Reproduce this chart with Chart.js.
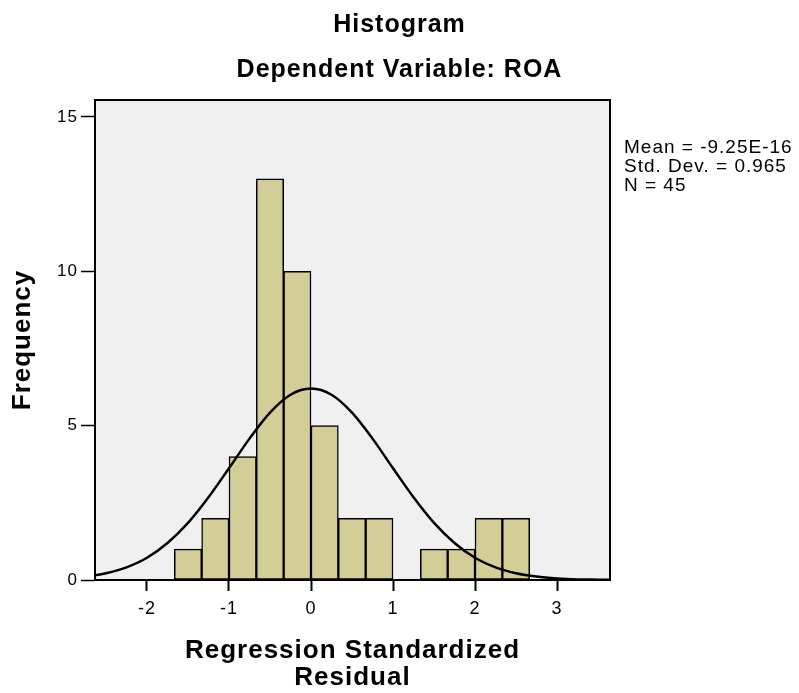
<!DOCTYPE html>
<html>
<head>
<meta charset="utf-8">
<script src="https://cdn.jsdelivr.net/npm/chart.js@4.4.1/dist/chart.umd.min.js"></script>
<style>
  body { margin: 0; background: #fff; }
</style>
</head>
<body>
<canvas id="histograma" width="799" height="693"></canvas>
<script>
const binCenters = [-1.5, -1.1667, -0.8333, -0.5, -0.1667, 0.1667, 0.5, 0.8333, 1.1667, 1.5, 1.8333, 2.1667, 2.5];
const frequencies = [1, 2, 4, 13, 10, 5, 2, 2, 0, 1, 1, 2, 2];

// curva normal
const curveX = [-2.75, -2.5, -2.25, -2, -1.75, -1.5, -1.25, -1, -0.75, -0.5, -0.25, 0, 0.25, 0.5, 0.75, 1, 1.25, 1.5, 1.75, 2, 2.25, 2.5, 2.75, 3, 3.25, 3.5, 3.75];
const curveY = [0.11, 0.22, 0.41, 0.72, 1.20, 1.85, 2.68, 3.62, 4.58, 5.42, 6.00, 6.20, 6.00, 5.42, 4.58, 3.62, 2.68, 1.85, 1.20, 0.72, 0.41, 0.22, 0.11, 0.05, 0.02, 0.01, 0.00];

const statLines = ["Mean = -9.25E-16", "Std. Dev. = 0.965", "N = 45"];

Chart.defaults.font.family = '"Liberation Sans", Arial, sans-serif';
Chart.defaults.color = '#000';

//Plugin para fondo, marco y estadisticos
const marco = {
  id: 'marco',
  beforeDraw(chart) {
    const {ctx, chartArea: a} = chart;
    ctx.letterSpacing = '1px'; // texto un poco mas espaciado, como en SPSS
    ctx.save();
    ctx.fillStyle = '#f0f0f0';
    ctx.fillRect(a.left, a.top, a.right - a.left, a.bottom - a.top);
    ctx.restore();
  },
  afterDraw(chart) {
    const {ctx, chartArea: a} = chart;
    ctx.save();
    ctx.strokeStyle = '#000';
    ctx.lineWidth = 2;
    ctx.strokeRect(a.left, a.top, a.right - a.left, a.bottom - a.top);
    ctx.fillStyle = '#000';
    ctx.font = '19px "Liberation Sans", Arial, sans-serif';
    ctx.textBaseline = 'middle';
    ctx.textAlign = 'left';
    statLines.forEach((t, i) => ctx.fillText(t, a.right + 14, 148 + i * 19));
    ctx.restore();
  }
};

const soloEnteros = (step) => (scale) => {
  scale.ticks = scale.ticks.filter(t => Math.abs(t.value / step - Math.round(t.value / step)) < 1e-6);
};

const grafHistograma = new Chart(
  document.querySelector("#histograma"),
  {
    type: "bar",
    data: {
      datasets: [
        {
          type: "line",
          data: curveX.map((x, i) => ({x: x, y: curveY[i]})),
          borderColor: '#000',
          borderWidth: 2.5,
          pointRadius: 0,
          cubicInterpolationMode: 'monotone',
          order: 0
        },
        {
          data: binCenters.map((x, i) => ({x: x, y: frequencies[i]})),
          backgroundColor: '#d3ce98',
          borderColor: '#000',
          borderWidth: 1.5,
          borderSkipped: false,
          barPercentage: 1,
          categoryPercentage: 1,
          order: 1
        }
      ]
    },
    options: {
      responsive: false,
      animation: false,
      layout: { padding: 0 },
      plugins: {
        legend: { display: false },
        tooltip: { enabled: false },
        title: {
          display: true,
          text: "Histogram",
          font: { size: 25, weight: 'bold', lineHeight: 1.2 },
          padding: { top: 10, bottom: 15.5 }
        },
        subtitle: {
          display: true,
          text: "Dependent Variable: ROA",
          color: '#000',
          font: { size: 25, weight: 'bold', lineHeight: 1.2 },
          padding: { top: 0, bottom: 14.5 }
        }
      },
      scales: {
        x: {
          type: 'linear',
          min: -2.634,
          max: 3.646,
          offset: false,
          afterBuildTicks: soloEnteros(1),
          afterFit: (s) => { s.height = 113; },
          grid: { offset: false, drawOnChartArea: false, drawTicks: true, tickLength: 11, tickWidth: 2, color: '#000' },
          border: { display: false },
          ticks: { stepSize: 1, includeBounds: false, padding: 7, font: { size: 18 }, maxRotation: 0 },
          title: {
            display: true,
            text: ["Regression Standardized", "Residual"],
            font: { size: 26, weight: 'bold', lineHeight: 1.04 },
            padding: { top: 0, bottom: 1.5 }
          }
        },
        y: {
          type: 'linear',
          min: 0,
          max: 15.55,
          afterBuildTicks: soloEnteros(5),
          afterFit: (s) => { s.width = 95; },
          grid: { drawOnChartArea: false, drawTicks: true, tickLength: 14, tickWidth: 1.5, color: '#000' },
          border: { display: false },
          ticks: { stepSize: 5, includeBounds: false, padding: 3, font: { size: 17 } },
          title: {
            display: true,
            text: "Frequency",
            font: { size: 26, weight: 'bold', lineHeight: 1.2 },
            padding: { top: 7.4, bottom: 0 }
          }
        },
        derecha: {
          type: 'linear',
          position: 'right',
          display: true,
          grid: { display: false },
          border: { display: false },
          ticks: { display: false },
          afterFit: (s) => { s.width = 189; }
        }
      }
    },
    plugins: [marco]
  }
);
</script>
</body>
</html>
